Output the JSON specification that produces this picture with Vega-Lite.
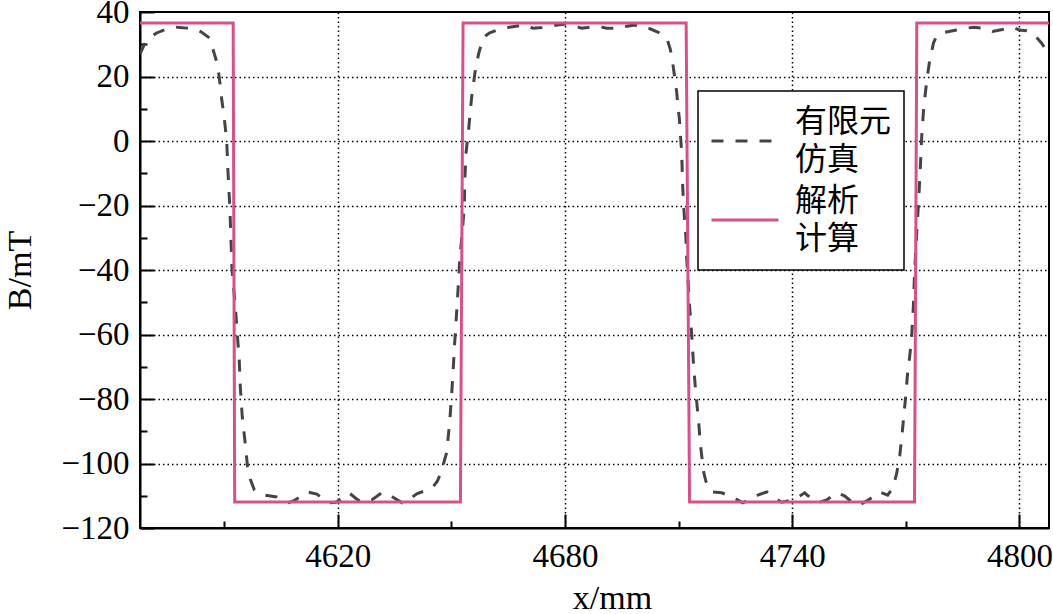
{
  "$schema": "https://vega.github.io/schema/vega-lite/v6.json",
  "width": 909,
  "height": 516,
  "autosize": {"type": "none"},
  "padding": {"left": 140, "top": 12, "right": 4, "bottom": 86},
  "background": "white",
  "config": {
    "view": {"stroke": "black", "strokeWidth": 2},
    "font": "Liberation Serif",
    "axis": {"labelFont": "Liberation Serif", "labelFontSize": 33, "labelColor": "black", "titleFont": "Liberation Serif"}
  },
  "data": {
    "values": [
      {"series": "有限元仿真", "x": 4567.8, "B": 27.0},
      {"series": "有限元仿真", "x": 4569.5, "B": 31.3},
      {"series": "有限元仿真", "x": 4572.2, "B": 33.5},
      {"series": "有限元仿真", "x": 4575.0, "B": 34.8},
      {"series": "有限元仿真", "x": 4577.5, "B": 35.3},
      {"series": "有限元仿真", "x": 4580.2, "B": 35.0},
      {"series": "有限元仿真", "x": 4582.5, "B": 34.6},
      {"series": "有限元仿真", "x": 4584.0, "B": 33.8},
      {"series": "有限元仿真", "x": 4586.2, "B": 31.9},
      {"series": "有限元仿真", "x": 4587.5, "B": 26.7},
      {"series": "有限元仿真", "x": 4588.3, "B": 23.6},
      {"series": "有限元仿真", "x": 4588.9, "B": 18.0},
      {"series": "有限元仿真", "x": 4589.4, "B": 12.7},
      {"series": "有限元仿真", "x": 4590.0, "B": 7.6},
      {"series": "有限元仿真", "x": 4590.7, "B": 0.0},
      {"series": "有限元仿真", "x": 4591.0, "B": -9.0},
      {"series": "有限元仿真", "x": 4591.5, "B": -20.0},
      {"series": "有限元仿真", "x": 4591.8, "B": -30.0},
      {"series": "有限元仿真", "x": 4592.1, "B": -40.0},
      {"series": "有限元仿真", "x": 4593.0, "B": -51.8},
      {"series": "有限元仿真", "x": 4593.5, "B": -60.0},
      {"series": "有限元仿真", "x": 4594.0, "B": -68.0},
      {"series": "有限元仿真", "x": 4594.3, "B": -76.6},
      {"series": "有限元仿真", "x": 4594.8, "B": -85.5},
      {"series": "有限元仿真", "x": 4595.5, "B": -93.0},
      {"series": "有限元仿真", "x": 4596.2, "B": -101.0},
      {"series": "有限元仿真", "x": 4596.9, "B": -104.8},
      {"series": "有限元仿真", "x": 4598.0, "B": -108.2},
      {"series": "有限元仿真", "x": 4600.7, "B": -109.8},
      {"series": "有限元仿真", "x": 4603.9, "B": -110.4},
      {"series": "有限元仿真", "x": 4606.8, "B": -112.2},
      {"series": "有限元仿真", "x": 4608.5, "B": -111.5},
      {"series": "有限元仿真", "x": 4610.0, "B": -110.4},
      {"series": "有限元仿真", "x": 4612.0, "B": -108.8},
      {"series": "有限元仿真", "x": 4614.5, "B": -109.5},
      {"series": "有限元仿真", "x": 4617.4, "B": -112.2},
      {"series": "有限元仿真", "x": 4619.5, "B": -112.0},
      {"series": "有限元仿真", "x": 4621.5, "B": -110.5},
      {"series": "有限元仿真", "x": 4623.0, "B": -109.1},
      {"series": "有限元仿真", "x": 4625.3, "B": -111.3},
      {"series": "有限元仿真", "x": 4627.0, "B": -112.0},
      {"series": "有限元仿真", "x": 4629.0, "B": -111.3},
      {"series": "有限元仿真", "x": 4631.6, "B": -109.1},
      {"series": "有限元仿真", "x": 4633.0, "B": -109.2},
      {"series": "有限元仿真", "x": 4634.5, "B": -110.4},
      {"series": "有限元仿真", "x": 4637.0, "B": -112.2},
      {"series": "有限元仿真", "x": 4639.0, "B": -111.0},
      {"series": "有限元仿真", "x": 4641.0, "B": -109.3},
      {"series": "有限元仿真", "x": 4643.0, "B": -108.5},
      {"series": "有限元仿真", "x": 4645.0, "B": -107.5},
      {"series": "有限元仿真", "x": 4646.3, "B": -105.5},
      {"series": "有限元仿真", "x": 4647.0, "B": -103.5},
      {"series": "有限元仿真", "x": 4647.7, "B": -101.0},
      {"series": "有限元仿真", "x": 4648.8, "B": -96.5},
      {"series": "有限元仿真", "x": 4649.6, "B": -86.5},
      {"series": "有限元仿真", "x": 4650.1, "B": -78.5},
      {"series": "有限元仿真", "x": 4650.5, "B": -70.5},
      {"series": "有限元仿真", "x": 4650.9, "B": -62.3},
      {"series": "有限元仿真", "x": 4651.3, "B": -55.0},
      {"series": "有限元仿真", "x": 4651.7, "B": -47.5},
      {"series": "有限元仿真", "x": 4652.2, "B": -37.0},
      {"series": "有限元仿真", "x": 4652.9, "B": -28.0},
      {"series": "有限元仿真", "x": 4653.4, "B": -20.5},
      {"series": "有限元仿真", "x": 4653.6, "B": -11.0},
      {"series": "有限元仿真", "x": 4653.9, "B": -3.5},
      {"series": "有限元仿真", "x": 4654.6, "B": 4.0},
      {"series": "有限元仿真", "x": 4654.9, "B": 8.0},
      {"series": "有限元仿真", "x": 4655.4, "B": 14.0},
      {"series": "有限元仿真", "x": 4656.4, "B": 22.5},
      {"series": "有限元仿真", "x": 4657.2, "B": 27.0},
      {"series": "有限元仿真", "x": 4657.8, "B": 29.5},
      {"series": "有限元仿真", "x": 4658.3, "B": 31.9},
      {"series": "有限元仿真", "x": 4660.0, "B": 33.5},
      {"series": "有限元仿真", "x": 4662.2, "B": 34.4},
      {"series": "有限元仿真", "x": 4665.4, "B": 35.3},
      {"series": "有限元仿真", "x": 4669.4, "B": 36.0},
      {"series": "有限元仿真", "x": 4671.5, "B": 35.0},
      {"series": "有限元仿真", "x": 4674.0, "B": 35.2},
      {"series": "有限元仿真", "x": 4678.0, "B": 36.0},
      {"series": "有限元仿真", "x": 4680.3, "B": 36.3},
      {"series": "有限元仿真", "x": 4684.4, "B": 35.0},
      {"series": "有限元仿真", "x": 4686.5, "B": 35.3},
      {"series": "有限元仿真", "x": 4689.0, "B": 35.5},
      {"series": "有限元仿真", "x": 4691.0, "B": 35.0},
      {"series": "有限元仿真", "x": 4693.6, "B": 35.0},
      {"series": "有限元仿真", "x": 4696.0, "B": 35.5},
      {"series": "有限元仿真", "x": 4698.4, "B": 36.0},
      {"series": "有限元仿真", "x": 4700.5, "B": 35.0},
      {"series": "有限元仿真", "x": 4702.5, "B": 34.8},
      {"series": "有限元仿真", "x": 4704.5, "B": 33.8},
      {"series": "有限元仿真", "x": 4706.9, "B": 31.9},
      {"series": "有限元仿真", "x": 4707.8, "B": 28.5},
      {"series": "有限元仿真", "x": 4708.3, "B": 25.5},
      {"series": "有限元仿真", "x": 4709.0, "B": 19.5},
      {"series": "有限元仿真", "x": 4709.5, "B": 15.2},
      {"series": "有限元仿真", "x": 4709.8, "B": 11.0},
      {"series": "有限元仿真", "x": 4710.2, "B": 7.0},
      {"series": "有限元仿真", "x": 4710.6, "B": 0.0},
      {"series": "有限元仿真", "x": 4710.8, "B": -3.0},
      {"series": "有限元仿真", "x": 4711.1, "B": -14.6},
      {"series": "有限元仿真", "x": 4711.3, "B": -18.9},
      {"series": "有限元仿真", "x": 4711.6, "B": -25.0},
      {"series": "有限元仿真", "x": 4711.9, "B": -29.0},
      {"series": "有限元仿真", "x": 4712.1, "B": -35.5},
      {"series": "有限元仿真", "x": 4712.9, "B": -51.0},
      {"series": "有限元仿真", "x": 4713.5, "B": -60.5},
      {"series": "有限元仿真", "x": 4713.9, "B": -68.5},
      {"series": "有限元仿真", "x": 4714.5, "B": -77.5},
      {"series": "有限元仿真", "x": 4715.3, "B": -87.0},
      {"series": "有限元仿真", "x": 4715.7, "B": -93.5},
      {"series": "有限元仿真", "x": 4716.6, "B": -102.5},
      {"series": "有限元仿真", "x": 4717.2, "B": -105.5},
      {"series": "有限元仿真", "x": 4718.7, "B": -108.8},
      {"series": "有限元仿真", "x": 4721.4, "B": -109.1},
      {"series": "有限元仿真", "x": 4724.3, "B": -110.4},
      {"series": "有限元仿真", "x": 4726.9, "B": -112.2},
      {"series": "有限元仿真", "x": 4729.0, "B": -111.0},
      {"series": "有限元仿真", "x": 4730.9, "B": -109.8},
      {"series": "有限元仿真", "x": 4733.3, "B": -108.8},
      {"series": "有限元仿真", "x": 4735.2, "B": -110.5},
      {"series": "有限元仿真", "x": 4737.2, "B": -112.0},
      {"series": "有限元仿真", "x": 4740.1, "B": -111.3},
      {"series": "有限元仿真", "x": 4741.8, "B": -110.2},
      {"series": "有限元仿真", "x": 4743.3, "B": -109.1},
      {"series": "有限元仿真", "x": 4745.4, "B": -111.3},
      {"series": "有限元仿真", "x": 4747.2, "B": -112.0},
      {"series": "有限元仿真", "x": 4749.1, "B": -111.3},
      {"series": "有限元仿真", "x": 4751.7, "B": -109.1},
      {"series": "有限元仿真", "x": 4753.8, "B": -110.0},
      {"series": "有限元仿真", "x": 4756.0, "B": -112.2},
      {"series": "有限元仿真", "x": 4757.8, "B": -112.9},
      {"series": "有限元仿真", "x": 4760.5, "B": -111.0},
      {"series": "有限元仿真", "x": 4763.0, "B": -108.8},
      {"series": "有限元仿真", "x": 4765.2, "B": -109.8},
      {"series": "有限元仿真", "x": 4766.6, "B": -107.5},
      {"series": "有限元仿真", "x": 4767.6, "B": -103.0},
      {"series": "有限元仿真", "x": 4768.4, "B": -97.5},
      {"series": "有限元仿真", "x": 4769.0, "B": -91.0},
      {"series": "有限元仿真", "x": 4769.4, "B": -86.0},
      {"series": "有限元仿真", "x": 4769.9, "B": -80.0},
      {"series": "有限元仿真", "x": 4770.5, "B": -71.5},
      {"series": "有限元仿真", "x": 4771.0, "B": -67.0},
      {"series": "有限元仿真", "x": 4771.5, "B": -61.5},
      {"series": "有限元仿真", "x": 4772.0, "B": -51.0},
      {"series": "有限元仿真", "x": 4772.3, "B": -41.0},
      {"series": "有限元仿真", "x": 4772.9, "B": -28.0},
      {"series": "有限元仿真", "x": 4773.4, "B": -18.0},
      {"series": "有限元仿真", "x": 4773.9, "B": -6.5},
      {"series": "有限元仿真", "x": 4774.2, "B": 1.5},
      {"series": "有限元仿真", "x": 4774.7, "B": 10.0},
      {"series": "有限元仿真", "x": 4775.5, "B": 18.5},
      {"series": "有限元仿真", "x": 4776.3, "B": 25.0},
      {"series": "有限元仿真", "x": 4777.3, "B": 30.4},
      {"series": "有限元仿真", "x": 4778.1, "B": 32.5},
      {"series": "有限元仿真", "x": 4779.5, "B": 33.5},
      {"series": "有限元仿真", "x": 4783.4, "B": 34.4},
      {"series": "有限元仿真", "x": 4786.1, "B": 35.0},
      {"series": "有限元仿真", "x": 4788.0, "B": 35.3},
      {"series": "有限元仿真", "x": 4790.3, "B": 35.0},
      {"series": "有限元仿真", "x": 4792.9, "B": 34.0},
      {"series": "有限元仿真", "x": 4795.5, "B": 34.6},
      {"series": "有限元仿真", "x": 4798.2, "B": 35.3},
      {"series": "有限元仿真", "x": 4800.0, "B": 34.4},
      {"series": "有限元仿真", "x": 4801.8, "B": 34.2},
      {"series": "有限元仿真", "x": 4803.5, "B": 33.5},
      {"series": "有限元仿真", "x": 4805.8, "B": 30.4},
      {"series": "有限元仿真", "x": 4807.8, "B": 27.0},
      {"series": "解析计算", "x": 4567.8, "B": 36.6},
      {"series": "解析计算", "x": 4592.4, "B": 36.6},
      {"series": "解析计算", "x": 4592.8, "B": -111.9},
      {"series": "解析计算", "x": 4652.4, "B": -111.9},
      {"series": "解析计算", "x": 4653.1, "B": 36.6},
      {"series": "解析计算", "x": 4712.0, "B": 36.6},
      {"series": "解析计算", "x": 4712.9, "B": -111.9},
      {"series": "解析计算", "x": 4772.3, "B": -111.9},
      {"series": "解析计算", "x": 4772.9, "B": 36.6},
      {"series": "解析计算", "x": 4807.8, "B": 36.6}
    ]
  },
  "mark": {"type": "line", "clip": true, "strokeWidth": 3},
  "encoding": {
    "x": {
      "field": "x",
      "type": "quantitative",
      "scale": {"domain": [4567.8, 4807.8], "nice": false, "zero": false},
      "axis": {
        "title": "x/mm",
        "titleFont": "Liberation Serif",
        "titleFontSize": 34,
        "titleFontWeight": "normal",
        "titleColor": "black",
        "titleX": 472,
        "titleY": 80,
        "titleBaseline": "alphabetic",
        "values": [4590, 4620, 4650, 4680, 4710, 4740, 4770, 4800],
        "labelExpr": "datum.value % 60 == 0 ? format(datum.value, 'd') : ''",
        "labelFont": "Liberation Serif",
        "labelFontSize": 33,
        "labelColor": "black",
        "labelPadding": 26,
        "labelFlush": false,
        "labelOverlap": false,
        "domain": true,
        "domainColor": "black",
        "domainWidth": 2,
        "ticks": true,
        "tickColor": "black",
        "tickWidth": 2,
        "tickSize": {"condition": {"test": "datum.value % 60 == 0", "value": -14}, "value": -7},
        "grid": true,
        "gridColor": "black",
        "gridWidth": 1.5,
        "gridDash": [1.5, 3],
        "gridOpacity": {"condition": {"test": "datum.value % 60 == 0", "value": 1}, "value": 0}
      }
    },
    "y": {
      "field": "B",
      "type": "quantitative",
      "scale": {"domain": [-120, 40], "nice": false, "zero": false},
      "axis": {
        "title": "B/mT",
        "titleFont": "Liberation Serif",
        "titleFontSize": 34,
        "titleFontWeight": "normal",
        "titleColor": "black",
        "titleX": -103,
        "titleY": 258,
        "titleAngle": -90,
        "titleBaseline": "bottom",
        "values": [-120, -110, -100, -90, -80, -70, -60, -50, -40, -30, -20, -10, 0, 10, 20, 30, 40],
        "labelExpr": "datum.value % 20 == 0 ? format(datum.value, 'd') : ''",
        "labelFont": "Liberation Serif",
        "labelFontSize": 33,
        "labelColor": "black",
        "labelPadding": 25,
        "labelFlush": false,
        "labelOverlap": false,
        "domain": true,
        "domainColor": "black",
        "domainWidth": 2,
        "ticks": true,
        "tickColor": "black",
        "tickWidth": 2,
        "tickSize": {"condition": {"test": "datum.value % 20 == 0", "value": -14}, "value": -7},
        "grid": true,
        "gridColor": "black",
        "gridWidth": 1.5,
        "gridDash": [1.5, 3],
        "gridOpacity": {"condition": {"test": "datum.value % 20 == 0 && datum.value > -120 && datum.value < 40", "value": 1}, "value": 0}
      }
    },
    "color": {
      "field": "series",
      "type": "nominal",
      "scale": {"domain": ["有限元仿真", "解析计算"], "range": ["#444444", "#d6508a"]},
      "legend": {
        "title": null,
        "orient": "none",
        "legendX": 558,
        "legendY": 79,
        "symbolType": "stroke",
        "symbolSize": 4489,
        "symbolStrokeWidth": 3,
        "labelFont": "Noto Sans CJK SC",
        "labelFontSize": 32,
        "labelColor": "black",
        "labelOffset": 15,
        "labelLimit": 0,
        "labelExpr": "datum.value == '有限元仿真' ? ['有限元', '仿真'] : ['解析', '计算']",
        "strokeColor": "black",
        "fillColor": "white",
        "padding": 12,
        "rowPadding": 3,
        "clipHeight": 76,
        "encode": {
          "labels": {"update": {"lineHeight": {"value": 38}, "dy": {"value": -19}}},
          "legend": {"update": {"strokeWidth": {"value": 1.5}}}
        }
      }
    },
    "strokeDash": {
      "field": "series",
      "type": "nominal",
      "scale": {"domain": ["有限元仿真", "解析计算"], "range": [[12, 12], [1, 0]]},
      "legend": {
        "title": null,
        "orient": "none",
        "legendX": 558,
        "legendY": 79,
        "symbolType": "stroke",
        "symbolSize": 4489,
        "symbolStrokeWidth": 3,
        "labelFont": "Noto Sans CJK SC",
        "labelFontSize": 32,
        "labelColor": "black",
        "labelOffset": 15,
        "labelLimit": 0,
        "labelExpr": "datum.value == '有限元仿真' ? ['有限元', '仿真'] : ['解析', '计算']",
        "strokeColor": "black",
        "fillColor": "white",
        "padding": 12,
        "rowPadding": 3,
        "clipHeight": 76,
        "encode": {
          "labels": {"update": {"lineHeight": {"value": 38}, "dy": {"value": -19}}},
          "legend": {"update": {"strokeWidth": {"value": 1.5}}}
        }
      }
    }
  }
}
